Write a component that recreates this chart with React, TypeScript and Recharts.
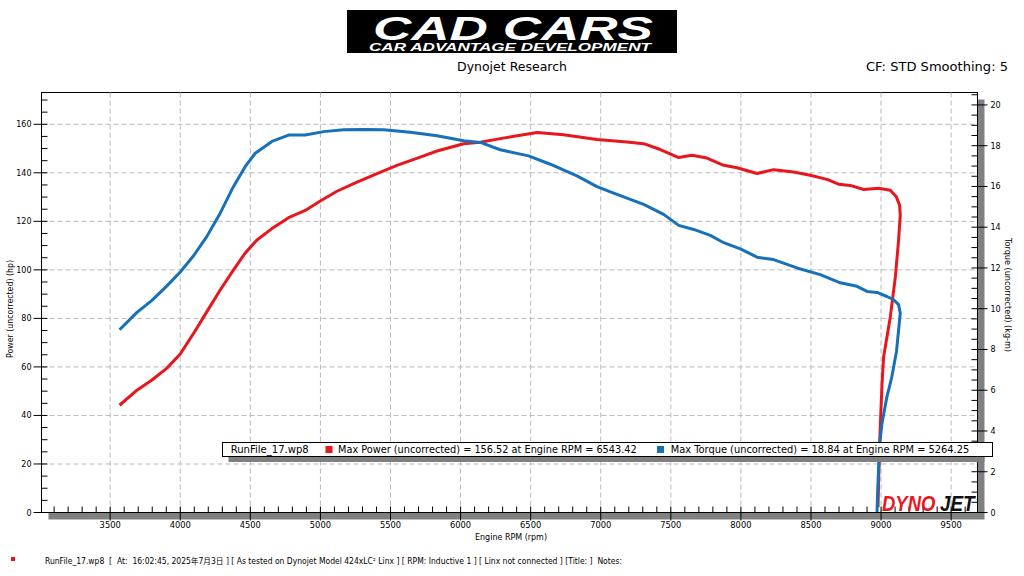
import { LineChart, Line, XAxis, YAxis, CartesianGrid } from 'recharts'

// Power curve (hp) in drawing order (includes the run-down)
const powerRpm = [3567, 3691, 3798, 3905, 4000, 4095, 4190, 4285, 4380, 4463, 4547, 4654, 4773, 4892, 4999, 5118, 5261, 5404, 5546, 5712, 5832, 6022, 6141, 6283, 6426, 6545, 6735, 6973, 7187, 7306, 7425, 7556, 7651, 7758, 7877, 7972, 8115, 8233, 8376, 8495, 8614, 8697, 8780, 8876, 8983, 9066, 9109, 9132, 9137, 9125, 9102, 9066, 9018, 9007, 8995, 8987, 8978]
const powerHp = [44.2, 50.4, 54.6, 59.5, 65.3, 73.8, 82.8, 91.7, 100.0, 106.9, 112.3, 117.0, 121.5, 124.5, 128.4, 132.4, 136.2, 139.7, 143.1, 146.5, 149.0, 152.0, 152.6, 154.1, 155.5, 156.6, 155.7, 153.7, 152.7, 152.0, 149.6, 146.3, 147.2, 146.1, 143.1, 142.1, 139.7, 141.3, 140.3, 139.0, 137.3, 135.3, 134.8, 133.1, 133.6, 132.8, 130.1, 126.7, 122.6, 112.3, 97.1, 80.6, 64.1, 53.1, 36.6, 22.8, 2.2]

// Torque curve (kg-m)
const torqueRpm = [3567, 3691, 3798, 3905, 4000, 4095, 4190, 4285, 4380, 4463, 4535, 4654, 4773, 4892, 5023, 5166, 5308, 5451, 5641, 5832, 6022, 6141, 6283, 6485, 6640, 6830, 6973, 7092, 7306, 7449, 7556, 7663, 7782, 7877, 7996, 8115, 8233, 8400, 8566, 8709, 8828, 8900, 8971, 9042, 9090, 9125, 9137, 9110, 9075, 9042, 9007, 8990, 8976, 8971]
const torqueKgm = [8.97, 9.82, 10.41, 11.12, 11.8, 12.6, 13.55, 14.69, 16.0, 16.97, 17.63, 18.21, 18.52, 18.52, 18.69, 18.78, 18.8, 18.78, 18.66, 18.49, 18.24, 18.16, 17.8, 17.5, 17.09, 16.52, 15.99, 15.67, 15.12, 14.63, 14.09, 13.89, 13.6, 13.24, 12.94, 12.53, 12.41, 12.0, 11.67, 11.27, 11.1, 10.85, 10.8, 10.6, 10.44, 10.2, 9.78, 7.9, 6.6, 5.69, 4.39, 3.41, 1.11, 0]

// tick labels
const rpmLabels = [3500, 4000, 4500, 5000, 5500, 6000, 6500, 7000, 7500, 8000, 8500, 9000, 9500]
const hpLabels = [0, 20, 40, 60, 80, 100, 120, 140, 160]
const torqueLabels = [0, 2, 4, 6, 8, 10, 12, 14, 16, 18, 20]

const RED = '#e8161d'
const BLUE = '#1671b8'
const FONT = '"DejaVu Sans", "Noto Sans CJK JP", sans-serif'

const powerData = powerRpm.map((rpm, i) => ({ rpm, hp: powerHp[i] }))
const torqueData = torqueRpm.map((rpm, i) => ({ rpm, tq: torqueKgm[i] }))

// minor tick positions
const rpmTicks: number[] = []
for (let r = 3100; r <= 9600; r += 100) rpmTicks.push(r)
const hpTicks: number[] = []
for (let h = 0; h <= 170; h += 5) hpTicks.push(h)
const tqTicks: number[] = []
for (let t = 0; t <= 20.5; t += 0.5) tqTicks.push(t)

const RpmTick = (props: any) => {
  const { x, y, payload } = props
  const major = rpmLabels.includes(payload.value)
  return (
    <g>
      <line x1={x} x2={x} y1={y - 6} y2={major ? y + 8 : y} stroke="#000" />
      {major && (
        <text x={x} y={y + 15} textAnchor="middle" fontSize={8.3} fontFamily={FONT} fill="#000">
          {payload.value}
        </text>
      )}
    </g>
  )
}

const HpTick = (props: any) => {
  const { x, y, payload } = props
  const major = hpLabels.includes(payload.value)
  return (
    <g>
      <line x1={major ? x - 8 : x} x2={x + 6} y1={y} y2={y} stroke="#000" />
      {major && (
        <text x={x - 10} y={y + 3} textAnchor="end" fontSize={8} fontFamily={FONT} fill="#000">
          {payload.value}
        </text>
      )}
    </g>
  )
}

const TqTick = (props: any) => {
  const { x, y, payload } = props
  const major = torqueLabels.includes(payload.value)
  return (
    <g>
      <line x1={x - 6} x2={major ? x + 10 : x} y1={y} y2={y} stroke="#000" />
      {major && (
        <text x={x + 13} y={y + 3} textAnchor="start" fontSize={8} fontFamily={FONT} fill="#000">
          {payload.value}
        </text>
      )}
    </g>
  )
}

const footer =
  'RunFile_17.wp8  [  At:  16:02:45, 2025年7月3日 ] [ As tested on Dynojet Model 424xLC² Linx ] [ RPM: Inductive 1 ] [ Linx not connected ] [Title: ]  Notes:'

export default function App() {
  return (
    <div style={{ position: 'absolute', left: 0, top: 0, width: 1024, height: 576, background: '#fff', overflow: 'hidden' }}>
      {/* plot frame + drop shadow */}
      <svg width={1024} height={576} style={{ position: 'absolute', left: 0, top: 0 }}>
        <rect x={48.5} y={99.5} width={936} height={420} fill="#808080" />
        <rect x={41.5} y={92.5} width={936} height={420} fill="#fff" stroke="#000" />
      </svg>

      <div style={{ position: 'absolute', left: 0, top: 0 }}>
        <LineChart width={1024} height={576} margin={{ top: 92.5, right: 0, bottom: 0, left: 0 }}>
          <CartesianGrid
            stroke="#b9b9b9"
            strokeDasharray="5 3"
            horizontalValues={hpLabels.slice(1)}
            verticalValues={rpmLabels}
          />
          <XAxis
            type="number"
            dataKey="rpm"
            domain={[3010, 9688]}
            allowDataOverflow
            ticks={rpmTicks}
            interval={0}
            height={63.5}
            tickSize={0}
            tickMargin={0}
            tickLine={false}
            tick={RpmTick}
            axisLine={{ stroke: '#000' }}
          />
          <YAxis
            type="number"
            domain={[0, 173.1]}
            allowDataOverflow
            ticks={hpTicks}
            interval={0}
            width={41.5}
            tickSize={0}
            tickMargin={0}
            tickLine={false}
            tick={HpTick}
            axisLine={{ stroke: '#000' }}
          />
          <YAxis
            yAxisId="tq"
            orientation="right"
            type="number"
            domain={[0, 20.61]}
            allowDataOverflow
            ticks={tqTicks}
            interval={0}
            width={46.5}
            tickSize={0}
            tickMargin={0}
            tickLine={false}
            tick={TqTick}
            axisLine={{ stroke: '#000' }}
          />
          <Line
            data={powerData}
            dataKey="hp"
            type="linear"
            stroke={RED}
            strokeWidth={3}
            strokeLinejoin="round"
            dot={false}
            isAnimationActive={false}
          />
          <Line
            data={torqueData}
            dataKey="tq"
            yAxisId="tq"
            type="linear"
            stroke={BLUE}
            strokeWidth={3}
            strokeLinejoin="round"
            dot={false}
            isAnimationActive={false}
          />
        </LineChart>
      </div>

      {/* header, legend box, logos and axis titles */}
      <svg width={1024} height={576} style={{ position: 'absolute', left: 0, top: 0, pointerEvents: 'none' }} fontFamily={FONT}>
        <rect x={347} y={10} width={330} height={43} fill="#000" />
        <text x={373} y={39.5} fontSize={33} fontWeight={700} fontStyle="italic" fill="#fff" fontFamily='"Liberation Sans", sans-serif' textLength={280} lengthAdjust="spacingAndGlyphs">
          CAD CARS
        </text>
        <text x={369} y={50.5} fontSize={10} fontWeight={700} fontStyle="italic" fill="#fff" fontFamily='"Liberation Sans", sans-serif' textLength={282} lengthAdjust="spacingAndGlyphs">
          CAR ADVANTAGE DEVELOPMENT
        </text>
        <text x={457} y={71} fontSize={12.5} fill="#000" textLength={110} lengthAdjust="spacingAndGlyphs">
          Dynojet Research
        </text>
        <text x={866} y={71} fontSize={12.5} fill="#000" textLength={142} lengthAdjust="spacingAndGlyphs">
          CF: STD Smoothing: 5
        </text>

        {/* legend */}
        <rect x={228.5} y={448.5} width={756} height={13.5} fill="#808080" />
        <rect x={222.5} y={442.5} width={770} height={14} fill="#fff" stroke="#000" />
        <text x={230.7} y={452.8} fontSize={11} fill="#000" textLength={78} lengthAdjust="spacingAndGlyphs">
          RunFile_17.wp8
        </text>
        <rect x={325.5} y={446} width={7} height={7} fill={RED} />
        <text x={338} y={452.8} fontSize={11} fill="#000" textLength={298.7} lengthAdjust="spacingAndGlyphs">
          Max Power (uncorrected) = 156.52 at Engine RPM = 6543.42
        </text>
        <rect x={657} y={446} width={7} height={7} fill={BLUE} />
        <text x={670.7} y={452.8} fontSize={11} fill="#000" textLength={298.6} lengthAdjust="spacingAndGlyphs">
          Max Torque (uncorrected) = 18.84 at Engine RPM = 5264.25
        </text>

        {/* dynojet mark, squeezed horizontally */}
        <text transform="translate(882,511) scale(0.84,1)" fontSize={22} fontWeight={700} fontStyle="italic" fill={RED} fontFamily='"Liberation Sans", sans-serif'>
          DYNO
        </text>
        <text transform="translate(940,511) scale(0.86,1)" fontSize={22} fontWeight={700} fontStyle="italic" fill="#111" fontFamily='"Liberation Sans", sans-serif'>
          JET
        </text>

        {/* axis titles */}
        <text x={511} y={540} textAnchor="middle" fontSize={9.5} fill="#000" textLength={72} lengthAdjust="spacingAndGlyphs">
          Engine RPM (rpm)
        </text>
        <text transform="translate(12.5,309) rotate(-90)" textAnchor="middle" fontSize={9.5} fill="#000" textLength={98} lengthAdjust="spacingAndGlyphs">
          Power (uncorrected) (hp)
        </text>
        <text transform="translate(1005,295) rotate(90)" textAnchor="middle" fontSize={9.5} fill="#000" textLength={114} lengthAdjust="spacingAndGlyphs">
          Torque (uncorrected) (kg-m)
        </text>

        {/* footer */}
        <rect x={11} y={557} width={4} height={4} fill={RED} />
        <text x={45} y={564} fontSize={8} fill="#000" style={{ whiteSpace: 'pre' }} textLength={577} lengthAdjust="spacingAndGlyphs">
          {footer}
        </text>
      </svg>
    </div>
  )
}
